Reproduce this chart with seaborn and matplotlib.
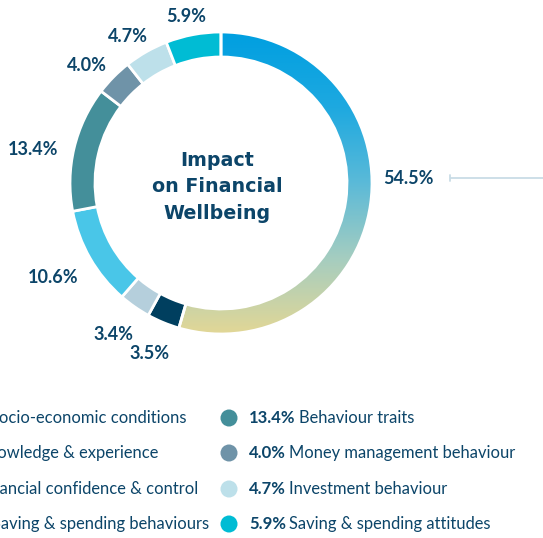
import numpy as np
import matplotlib
matplotlib.use("Agg")
import matplotlib.pyplot as plt
import seaborn as sns
from matplotlib.colors import LinearSegmentedColormap

# ---------------- data ----------------
categories = ["Socio-economic conditions", "Knowledge & experience",
              "Financial confidence & control", "Saving & spending behaviours",
              "Behaviour traits", "Money management behaviour",
              "Investment behaviour", "Saving & spending attitudes"]
values = [54.5, 3.5, 3.4, 10.6, 13.4, 4.0, 4.7, 5.9]
pct_labels = [f"{v:.1f}%" for v in values]
colors = ["#1aa7e0", "#003f5f", "#b5cfdc", "#49c6e8",
          "#448f9a", "#6f93a8", "#bde0ea", "#00bcd4"]
gradient_stops = ["#009fe0", "#1ea9e0", "#5bbad8", "#a5cdc0", "#e2d796"]
center_title = "Impact\non Financial\nWellbeing"

# ---------------- style ----------------
sns.set_theme(style="white")
plt.rcParams["font.family"] = ["Lato", "DejaVu Sans"]
NAVY = "#0c4569"

W, H = 543, 538
fig = plt.figure(figsize=(W / 100, H / 100), dpi=100)
ax = fig.add_axes([0, 0, 1, 1])

cx, cy, R, ring = 221, H - 183, 151, 25
wedges, _ = ax.pie(values, colors=sns.color_palette(colors), startangle=90,
                   counterclock=False, center=(cx, cy), radius=R, frame=True,
                   wedgeprops=dict(width=ring, edgecolor="white", linewidth=2))

# gradient on the largest slice
cmap = LinearSegmentedColormap.from_list("grad", gradient_stops)
grad = np.linspace(0, 1, 256).reshape(-1, 1)
im = ax.imshow(grad, cmap=cmap, extent=(cx - R, cx + R, cy - R, cy + R),
               origin="upper", aspect="auto", zorder=0.5)
im.set_clip_path(wedges[0])
wedges[0].set_facecolor("none")
wedges[0].set_zorder(1.5)

ax.set_xlim(0, W)
ax.set_ylim(0, H)
ax.set_aspect("equal")
ax.axis("off")

# percentage labels around the ring
fig.canvas.draw()
renderer = fig.canvas.get_renderer()
cum = np.concatenate([[0], np.cumsum(values)])
for i, lab in enumerate(pct_labels):
    if i == 0:
        ang, r_lab, dy = 0.0, R + 11, 4
    else:
        ang, r_lab, dy = 90 - 3.6 * (cum[i] + values[i] / 2), R + 17, -7
    a = np.deg2rad(ang)
    t = ax.text(0, 0, lab, fontsize=13, fontweight="bold", color=NAVY,
                ha="center", va="center")
    bb = t.get_window_extent(renderer)
    w, h = bb.width, bb.height
    x = cx + r_lab * np.cos(a) + (w / 2) * np.cos(a)
    y = cy + r_lab * np.sin(a) + (h / 2) * np.sin(a) + dy
    t.set_position((x, y))
    if i == 0:
        lx0 = x + w / 2 + 16
        ax.plot([lx0, W], [y + 1, y + 1], color="#c9dce6", lw=1.3,
                solid_capstyle="butt")
        ax.plot([lx0, lx0], [y - 2, y + 4], color="#c9dce6", lw=1.3)

# centre title
ax.text(cx - 4, cy - 4, center_title, fontsize=13.7, fontweight="bold",
        color=NAVY, ha="center", va="center", linespacing=1.5,
        family=["DejaVu Sans"])

# ---------------- legend ----------------
rows_y = [418, 453, 489, 524]
# right column
for k, i in enumerate(range(4, 8)):
    y = H - rows_y[k]
    ax.scatter([229], [y], s=150, color=colors[i], edgecolor="none", zorder=3)
    t = ax.text(249, y, pct_labels[i], fontsize=12, fontweight="bold",
                color=NAVY, ha="left", va="center")
    ax.annotate(categories[i], xy=(1, 0.5), xycoords=t, xytext=(2.5, 0),
                textcoords="offset points", fontsize=11.9, color=NAVY,
                ha="left", va="center")
# left column (cropped by the figure edge, as in the reference)
left_ends = [186, 158, 198, 209]
for k, i in enumerate(range(0, 4)):
    y = H - rows_y[k]
    t = ax.text(left_ends[k], y, categories[i], fontsize=11.9, color=NAVY,
                ha="right", va="center")
    ax.annotate(pct_labels[i], xy=(0, 0.5), xycoords=t, xytext=(-2.5, 0),
                textcoords="offset points", fontsize=12, fontweight="bold",
                color=NAVY, ha="right", va="center")

fig.savefig("out.png", dpi=100, facecolor="white")
